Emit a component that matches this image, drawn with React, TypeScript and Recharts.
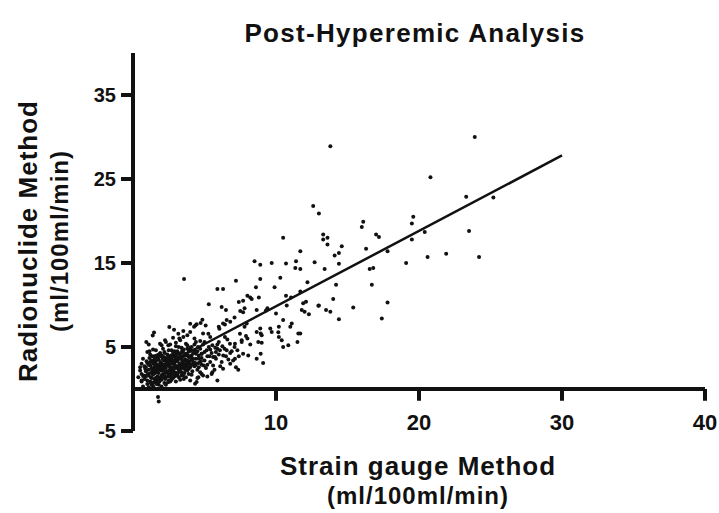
import * as React from 'react';
import {
    ScatterChart,
    Scatter,
    XAxis,
    YAxis,
    ReferenceLine,
    ReferenceDot
} from 'recharts';

const FONT = '"Liberation Sans", Arial, sans-serif';

const chartTitle = 'Post-Hyperemic Analysis';
const xTitle = ['Strain gauge Method', '(ml/100ml/min)'];
const yTitle = ['Radionuclide Method', '(ml/100ml/min)'];

const xTicks = [10, 20, 30, 40];
const yTicks = [-5, 5, 15, 25, 35];

// strain gauge (x) vs radionuclide (y)
const outerX = [
    23.9, 20.8, 23.3, 25.2, 19.6, 19.5, 17.0, 17.2, 20.4, 19.5, 23.5, 17.8, 16.8, 16.55, 19.1, 20.6, 21.9, 24.2,
    16.7, 17.8, 17.4, 13.8, 12.6, 13.0, 16.1, 16.0, 13.3, 13.6, 13.3, 13.6, 14.6, 16.3, 14.1, 14.4, 11.7, 12.7,
    13.4, 14.4, 11.7, 12.2, 14.2, 11.7, 12.1, 11.9, 14.0, 13.0, 15.4, 11.8, 12.0, 12.3, 13.5, 13.8, 14.4, 11.7,
    10.5, 8.5, 8.9, 9.7, 10.7, 11.4, 11.35, 10.3, 8.9, 7.2, 5.9, 6.3, 8.6, 9.9, 8.0, 8.2, 8.3, 8.8, 10.7, 11.05,
    5.3, 7.4, 7.7, 6.2, 6.5, 7.5, 7.8, 7.7, 8.65, 9.4, 9.3, 10.0, 10.75, 12.96, 4.85, 4.45, 4.27, 6.55, 6.3, 6.0,
    7.1, 6.8, 7.95, 7.8, 8.9, 8.65, 9.0, 9.6, 9.7, 10.5, 10.2, 11.1, 11.0, 11.56, 10.2, 10.4, 9.0, 10.86, 10.5,
    3.57, 0.93, 1.1, 1.47, 1.38, 2.54, 2.87, 3.24, 3.52, 4.0, 4.36, 4.73, 5.27, 6.04, 6.43, 5.9, 6.55, 5.5, 5.9,
    4.57, 4.8, 6.3, 6.8, 7.2, 7.36, 7.0, 6.67, 7.7, 8.06, 8.65, 8.93, 9.1, 8.76, 8.93, 10.16, 11.5, 5.08, 3.17,
    3.52, 1.89, 2.24, 2.47, 0.6, 0.5, 0.37, 0.6, 4.34, 4.45, 5.55, 7.13, 7.6, 7.13, 7.48, 6.08, 6.31, 5.73, 6.78,
    6.43, 1.8, 1.75
];
const outerY = [
    30.0, 25.2, 22.9, 22.8, 20.5, 19.7, 18.4, 18.1, 18.7, 17.8, 18.8, 16.4, 14.4, 14.3, 15.0, 15.7, 16.1, 15.7,
    12.4, 10.3, 8.4, 28.9, 21.8, 20.9, 19.9, 19.3, 18.4, 18.0, 17.8, 17.2, 17.0, 16.7, 15.9, 16.2, 16.4, 15.1,
    14.3, 14.9, 14.3, 12.7, 12.4, 11.6, 10.4, 10.2, 10.7, 9.95, 9.7, 9.4, 9.2, 8.9, 9.4, 9.2, 8.3, 6.6,
    18.0, 15.2, 14.8, 15.0, 14.95, 15.2, 14.4, 13.25, 13.1, 12.9, 11.9, 11.9, 12.1, 12.1, 11.1, 10.9, 10.7, 10.9, 11.1, 10.9,
    10.1, 10.35, 10.5, 9.75, 9.4, 9.3, 9.6, 9.15, 9.4, 9.6, 9.35, 9.0, 9.95, 9.9, 8.25, 7.7, 7.4, 8.2, 7.8, 7.4,
    8.5, 8.0, 7.8, 7.4, 7.2, 6.8, 6.4, 7.2, 6.8, 8.2, 7.4, 7.8, 7.4, 6.6, 6.2, 5.8, 5.5, 5.2, 5.0,
    13.1, 5.6, 5.3, 6.74, 6.38, 7.37, 7.06, 6.0, 6.18, 7.77, 7.57, 7.85, 6.58, 7.18, 7.69, 4.8, 4.6, 1.8, 1.0,
    1.4, 1.8, 2.4, 3.0, 2.6, 2.3, 3.4, 3.5, 4.2, 4.0, 3.6, 4.2, 3.1, 5.6, 6.6, 6.77, 5.6, 7.57, 6.58,
    6.89, 5.4, 5.8, 5.2, 3.0, 2.6, 1.4, 1.0, 0.63, 0.82, 2.0, 3.6, 5.8, 5.4, 6.58, 4.6, 4.0, 3.8, 5.4,
    6.18, -1.5, -0.95
];

// the dense cluster near the origin
const clusterX = [
    0.8, 0.9, 1.0, 1.1, 1.2, 1.2, 1.3, 1.3, 1.4, 1.4, 1.5, 1.5, 1.6, 1.6, 1.7, 1.7, 1.8, 1.8, 1.9, 1.9,
    2.0, 2.0, 2.1, 2.1, 2.2, 2.2, 2.3, 2.3, 2.4, 2.4, 2.5, 2.5, 2.6, 2.6, 2.7, 2.7, 2.8, 2.8, 2.9, 2.9,
    3.0, 3.0, 3.1, 3.1, 3.2, 3.2, 3.3, 3.3, 3.4, 3.4, 3.5, 3.5, 3.6, 3.6, 3.7, 3.7, 3.8, 3.8, 3.9, 3.9,
    4.0, 4.0, 4.1, 4.1, 4.2, 4.2, 4.3, 4.4, 4.4, 4.5, 4.6, 4.6, 4.7, 4.8, 4.8, 4.9, 5.0, 5.0, 5.1, 5.2,
    5.3, 5.4, 5.5, 5.6, 5.8, 5.9, 6.0, 6.2, 6.4, 6.6,
    0.7, 0.6, 0.9, 1.0, 1.1, 1.2, 1.3, 1.4, 1.5, 1.5, 1.6, 1.6, 1.7, 1.7, 1.8, 1.8, 1.9, 1.9, 2.0, 2.0,
    2.0, 2.1, 2.2, 2.2, 2.3, 2.3, 2.4, 2.5, 2.5, 2.6, 2.6, 2.7, 2.7, 2.8, 2.9, 2.9, 3.0, 3.0, 3.1, 3.2,
    3.3, 3.4, 3.5, 3.6, 3.7, 3.8, 3.9, 4.0, 4.1, 4.3, 4.5, 4.7, 4.9, 5.2, 5.7, 6.1, 6.9, 7.4, 8.2, 7.9,
    0.5, 0.6, 0.7, 0.8, 0.9, 1.0, 1.1, 1.2, 1.3, 1.4, 1.5, 1.6, 1.7, 1.8, 1.9, 2.0, 2.1, 2.2, 2.3, 2.4,
    2.5, 2.6, 2.7, 2.8, 2.9, 3.0, 3.1, 3.2, 3.3, 3.4, 3.5, 3.6, 3.7, 3.8, 3.9, 4.0, 4.2, 4.4, 4.6, 4.8,
    5.0, 5.2, 5.4, 5.6, 5.8, 6.0,
    1.05, 1.15, 1.25, 1.35, 1.45, 1.55, 1.65, 1.75, 1.85, 1.95, 2.05, 2.15, 2.25, 2.35, 2.45, 2.55, 2.65,
    2.75, 2.85, 2.95, 3.05, 3.15, 3.25, 3.35, 3.45, 3.55, 3.65, 3.75, 3.85, 3.95, 4.15, 4.35, 4.55, 4.75,
    4.95, 5.15, 5.35, 5.55, 5.75, 6.25, 6.5, 6.8, 7.1, 7.3, 7.6, 8.0,
    2.3, 2.8, 3.3, 3.8, 4.3, 4.9, 5.4, 2.0, 3.0, 4.0,
    0.75, 0.85, 0.95, 1.0, 1.1, 1.15, 1.25, 1.3, 1.35, 1.4, 1.45, 1.5, 1.55, 1.6, 1.65, 1.7, 1.75, 1.8,
    1.85, 1.9, 1.95, 2.0, 2.05, 2.1, 2.15, 2.2, 2.25, 2.3, 2.35, 2.4, 2.45, 2.5, 2.55, 2.6, 2.65, 2.7,
    2.75, 2.8, 2.85, 2.9, 2.95, 3.0, 3.05, 3.1, 3.15, 3.2, 3.25, 3.3, 3.35, 3.4, 3.45, 3.5, 3.55, 3.6,
    3.65, 3.7, 3.75, 3.8, 3.85, 3.9, 4.0, 4.05, 4.1, 4.2, 4.3, 4.4, 4.5, 4.6, 4.7, 4.8
];
const clusterY = [
    1.2, 2.1, 0.6, 1.6, 2.8, 0.9, 3.4, 1.9, 0.4, 2.4, 1.2, 3.9, 2.0, 0.8, 2.9, 1.5, 3.5, 0.5, 2.3, 4.3,
    1.1, 3.1, 1.8, 4.8, 2.6, 0.7, 3.7, 1.4, 2.1, 4.1, 2.9, 1.0, 3.4, 1.7, 2.4, 4.6, 3.0, 1.3, 3.8, 2.0,
    2.6, 5.1, 3.3, 1.6, 4.2, 2.3, 2.9, 1.1, 3.6, 4.9, 2.5, 3.1, 4.0, 1.9, 2.8, 5.4, 3.4, 2.2, 4.5, 3.0,
    2.6, 3.8, 5.0, 1.7, 3.2, 4.3, 2.7, 3.6, 5.6, 2.3, 4.0, 3.1, 4.8, 2.9, 3.7, 5.3, 3.4, 4.4, 2.5, 3.9,
    5.0, 3.2, 4.3, 2.8, 3.6, 5.3, 4.1, 3.2, 4.8, 5.9,
    0.3, 1.8, 2.6, 3.1, 0.2, 4.1, 1.3, 3.0, 2.6, 0.1, 3.3, 4.6, 1.0, 2.2, 1.9, 2.7, 1.2, 3.2, 0.3, 2.2,
    4.0, 2.9, 1.5, 3.4, 2.5, 0.5, 3.0, 1.8, 3.8, 2.4, 5.3, 1.1, 3.5, 2.2, 1.5, 4.5, 0.9, 3.5, 2.7, 1.4,
    3.9, 2.0, 4.4, 2.9, 1.4, 4.8, 2.4, 1.0, 3.5, 4.6, 1.3, 2.0, 1.6, 1.5, 2.3, 2.7, 4.5, 3.9, 5.3, 6.3,
    2.2, 0.9, 3.6, 2.7, 1.5, 4.4, 2.3, 3.2, 0.5, 4.7, 2.0, 1.1, 3.8, 4.1, 2.6, 1.6, 3.6, 4.3, 1.9, 2.8,
    3.5, 0.9, 2.0, 4.1, 3.1, 1.8, 4.5, 3.6, 2.4, 1.6, 3.9, 2.5, 4.2, 3.0, 1.8, 4.7, 2.9, 4.2, 2.6, 4.2,
    5.6, 2.9, 4.7, 3.8, 4.4, 5.6,
    1.8, 3.7, 0.7, 2.2, 3.3, 1.9, 0.6, 2.6, 4.0, 2.8, 1.4, 3.8, 2.0, 3.2, 0.8, 2.7, 4.0,
    1.8, 3.3, 2.5, 4.2, 1.9, 3.6, 2.6, 4.6, 1.2, 3.5, 2.7, 4.0, 3.3, 2.1, 3.1, 5.0, 3.3,
    2.8, 4.6, 3.9, 5.2, 4.9, 5.1, 3.9, 4.3, 5.0, 4.6, 5.6, 6.0,
    5.6, 6.1, 5.8, 6.4, 6.0, 6.6, 6.2, 5.2, 5.5, 6.8,
    1.6, 2.4, 3.3, 1.0, 2.9, 4.5, 1.4, 2.5, 3.9, 1.7, 0.8, 3.5, 2.9, 1.3, 4.0, 2.5, 3.6, 1.4,
    0.9, 2.9, 3.9, 2.6, 1.5, 3.5, 2.3, 4.4, 1.2, 3.0, 2.0, 3.4, 1.5, 4.6, 2.2, 3.0, 1.4, 3.9,
    2.6, 4.4, 2.0, 3.4, 2.8, 4.0, 1.9, 3.7, 2.4, 5.0, 3.0, 2.1, 4.3, 2.8, 3.3, 1.6, 4.7, 3.4,
    2.3, 4.0, 3.1, 5.2, 2.6, 3.8, 4.9, 2.9, 4.0, 3.6, 5.3, 2.9, 4.5, 3.6, 5.7, 4.2
];

// regression line end points
const fitX = [0.6, 30];
const fitY = [1.4, 27.8];

const points = [
    ...outerX.map((x, i) => ({ x, y: outerY[i] })),
    ...clusterX.map((x, i) => ({ x, y: clusterY[i] }))
];
const fit = fitX.map((x, i) => ({ x, y: fitY[i] }));

const Dot = (props: any) => <circle cx={props.cx} cy={props.cy} r={2} fill="#111" />;

const textStyle: React.CSSProperties = {
    position: 'absolute',
    fontFamily: FONT,
    fontWeight: 'bold',
    color: '#111',
    whiteSpace: 'nowrap',
    lineHeight: 1
};

const App: React.FC = () => {
    return (
        <div style={{ position: 'relative', width: 719, height: 513, background: '#fff' }}>
            <style>{'html, body { margin: 0; overflow: hidden; }'}</style>
            <ScatterChart
                width={719}
                height={513}
                margin={{ top: 53, right: 14, bottom: 82, left: 73 }}
            >
                <XAxis type="number" dataKey="x" domain={[0, 40]} hide />
                <YAxis
                    type="number"
                    dataKey="y"
                    domain={[-5, 40]}
                    ticks={yTicks}
                    width={60}
                    axisLine={{ stroke: '#111', strokeWidth: 4 }}
                    tickLine={{ stroke: '#111', strokeWidth: 4 }}
                    tickSize={12}
                    tickMargin={5}
                    tick={{ fill: '#111', fontSize: 20, fontWeight: 'bold', fontFamily: FONT }}
                />
                <ReferenceLine y={0} stroke="#111" strokeWidth={4} />
                {xTicks.map((t) => (
                    <ReferenceLine
                        key={'tl' + t}
                        segment={[{ x: t, y: 0 }, { x: t, y: -1.4 }]}
                        stroke="#111"
                        strokeWidth={4}
                    />
                ))}
                {xTicks.map((t) => (
                    <ReferenceDot
                        key={'tx' + t}
                        x={t}
                        y={-4}
                        r={0}
                        stroke="none"
                        label={{
                            value: String(t),
                            position: 'center',
                            fill: '#111',
                            fontSize: 22,
                            fontWeight: 'bold',
                            fontFamily: FONT
                        }}
                    />
                ))}
                <Scatter data={points} shape={Dot} isAnimationActive={false} />
                <Scatter
                    data={fit}
                    line={{ stroke: '#111', strokeWidth: 2.5 }}
                    shape={() => <g />}
                    isAnimationActive={false}
                />
            </ScatterChart>

            <div style={{ ...textStyle, left: 415, top: 33, fontSize: 26, letterSpacing: 1.3, transform: 'translate(-50%, -50%)' }}>
                {chartTitle}
            </div>
            <div style={{ ...textStyle, left: 418, top: 466, fontSize: 26, letterSpacing: 1, transform: 'translate(-50%, -50%)' }}>
                {xTitle[0]}
            </div>
            <div style={{ ...textStyle, left: 418, top: 496, fontSize: 24, letterSpacing: 1, transform: 'translate(-50%, -50%)' }}>
                {xTitle[1]}
            </div>
            <div style={{ ...textStyle, left: 28, top: 241, fontSize: 26, letterSpacing: 1, transform: 'translate(-50%, -50%) rotate(-90deg)' }}>
                {yTitle[0]}
            </div>
            <div style={{ ...textStyle, left: 60, top: 241, fontSize: 24, letterSpacing: 1, transform: 'translate(-50%, -50%) rotate(-90deg)' }}>
                {yTitle[1]}
            </div>
        </div>
    );
};

export default App;
